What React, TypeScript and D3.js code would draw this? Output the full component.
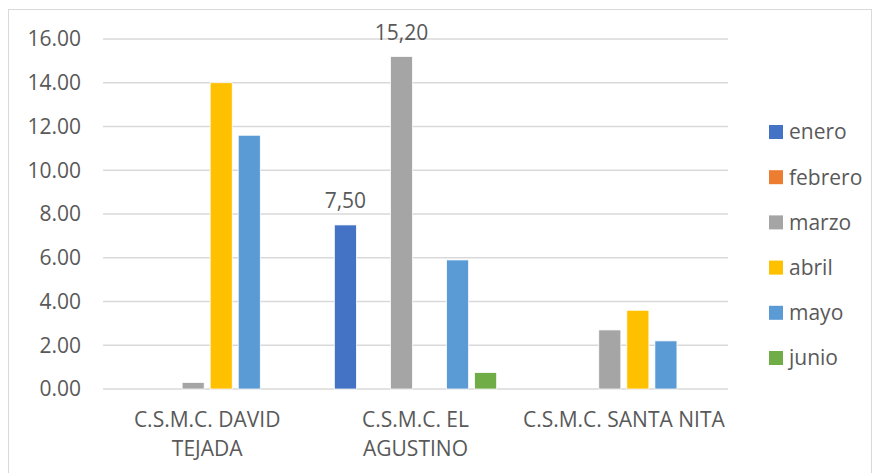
import React from "react";
import * as d3 from "d3";

const categories: string[][] = [
  ["C.S.M.C. DAVID", "TEJADA"],
  ["C.S.M.C. EL", "AGUSTINO"],
  ["C.S.M.C. SANTA NITA"],
];
const seriesNames = ["enero", "febrero", "marzo", "abril", "mayo", "junio"];
const seriesColors = ["#4472C4", "#ED7D31", "#A5A5A5", "#FFC000", "#5B9BD5", "#70AD47"];
// values[series][category]
const enero = [0, 7.5, 0];
const febrero = [0, 0, 0];
const marzo = [0.3, 15.2, 2.7];
const abril = [14.0, 0, 3.6];
const mayo = [11.6, 5.9, 2.2];
const junio = [0, 0.75, 0];
const values = [enero, febrero, marzo, abril, mayo, junio];
const yTicks = [0, 2, 4, 6, 8, 10, 12, 14, 16];
// data labels shown: [series index, category index, text]
const dataLabels: [number, number, string][] = [
  [0, 1, "7,50"],
  [2, 1, "15,20"],
];

const W = 876;
const H = 473;
const plotLeft = 103;
const plotRight = 728;
const plotTop = 39;
const plotBottom = 389;
const FONT = "'Open Sans', sans-serif";
const TXT = "#595959";
const FS = 21;

export default function App() {
  const y = d3.scaleLinear().domain([0, 16]).range([plotBottom, plotTop]);
  const x0 = d3
    .scaleBand<number>()
    .domain(categories.map((_, i) => i))
    .range([plotLeft, plotRight])
    .paddingInner(0)
    .paddingOuter(0);
  const groupPad = 20;
  const x1 = d3
    .scaleBand<number>()
    .domain(seriesNames.map((_, i) => i))
    .range([groupPad, x0.bandwidth() - groupPad])
    .paddingInner(0.214)
    .paddingOuter(0.107);
  const bw = x1.bandwidth();

  return (
    <svg
      width={W}
      height={H}
      style={{ position: "absolute", left: 0, top: 0, display: "block", background: "#fff" }}
      fontFamily={FONT}
    >
      <rect x={8.5} y={9.5} width={863} height={480} fill="#fff" stroke="#d9d9d9" strokeWidth={1} />
      {yTicks.map((t) => (
        <g key={t}>
          <line x1={plotLeft} x2={plotRight} y1={y(t)} y2={y(t)} stroke="#d9d9d9" strokeWidth={1.5} />
          <text x={81} y={y(t)} dy="0.35em" textAnchor="end" fontSize={FS} fill={TXT}>
            {t.toFixed(2)}
          </text>
        </g>
      ))}
      {values.map((vals, si) =>
        vals.map((v, ci) =>
          v > 0 ? (
            <rect
              key={`${si}-${ci}`}
              x={(x0(ci) as number) + (x1(si) as number)}
              y={y(v)}
              width={bw}
              height={y(0) - y(v)}
              fill={seriesColors[si]}
              stroke="#fff"
              strokeWidth={0.75}
            />
          ) : null
        )
      )}
      {dataLabels.map(([si, ci, txt]) => (
        <text
          key={txt}
          x={(x0(ci) as number) + (x1(si) as number) + bw / 2}
          y={y(values[si][ci]) - 17}
          textAnchor="middle"
          fontSize={FS}
          fill={TXT}
        >
          {txt}
        </text>
      ))}
      {categories.map((lines, ci) => (
        <text
          key={ci}
          x={(x0(ci) as number) + x0.bandwidth() / 2}
          textAnchor="middle"
          fontSize={FS}
          fill={TXT}
        >
          {lines.map((l, li) => (
            <tspan key={li} x={(x0(ci) as number) + x0.bandwidth() / 2} y={420 + li * 29} dy="0.35em">
              {l}
            </tspan>
          ))}
        </text>
      ))}
      {seriesNames.map((n, i) => (
        <g key={n} transform={`translate(769, ${132 + i * 45.2})`}>
          <rect x={0} y={-7} width={14} height={14} fill={seriesColors[i]} />
          <text x={20} y={0} dy="0.35em" fontSize={FS} fill={TXT}>
            {n}
          </text>
        </g>
      ))}
    </svg>
  );
}
